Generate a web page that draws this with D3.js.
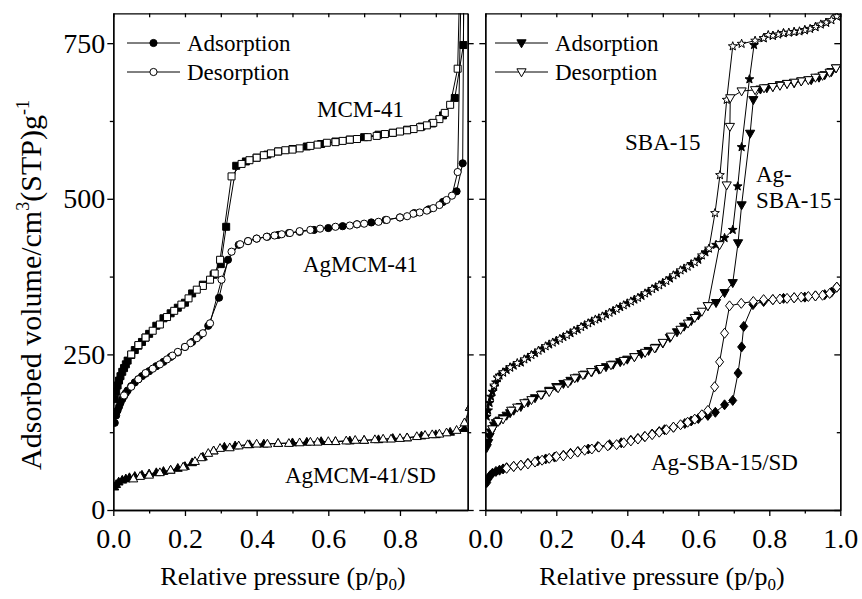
<!DOCTYPE html>
<html>
<head>
<meta charset="utf-8">
<script src="https://cdn.jsdelivr.net/npm/d3@7/dist/d3.min.js"></script>
<style>
	body { margin: 0; background: #fff; }
</style>
</head>
<body>
<svg id="graphic" width="862" height="599"></svg>
<script>
// ---- data: [relative pressure, adsorbed volume] ----

// left panel
const mcm41Ads = [[0.004,178],[0.008,190],[0.012,200],[0.016,208],[0.02,215],[0.025,222],[0.03,228],[0.035,234],[0.04,240],[0.05,249],[0.06,257],[0.07,264],[0.08,270],[0.09,277],[0.10,283],[0.12,296],[0.14,308],[0.16,316],[0.18,325],[0.20,333],[0.22,348],[0.25,362],[0.28,378],[0.30,395],[0.315,455],[0.343,553],[0.37,560],[0.40,566],[0.43,571],[0.46,576],[0.50,580],[0.54,584],[0.58,588],[0.62,592],[0.66,595],[0.70,599],[0.74,603],[0.78,606],[0.82,611],[0.86,616],[0.89,621],[0.92,634],[0.953,662],[0.977,747],[0.982,1200]];
const mcm41Des = [[0.982,1200],[0.961,709],[0.94,651],[0.925,638],[0.91,628],[0.893,622],[0.875,618],[0.856,615],[0.838,612],[0.82,610],[0.80,608],[0.78,606],[0.758,604],[0.735,601],[0.71,599],[0.68,596],[0.66,595],[0.64,593],[0.62,591],[0.596,590],[0.57,587],[0.55,585],[0.52,581],[0.50,579],[0.48,578],[0.46,576],[0.44,573],[0.42,570],[0.40,566],[0.38,562],[0.358,556],[0.33,536],[0.298,402],[0.283,380],[0.27,370],[0.25,360],[0.233,354],[0.21,340],[0.19,330],[0.17,320],[0.15,310],[0.13,298],[0.11,288],[0.09,277],[0.07,265],[0.05,250]];

const agMcm41Ads = [[0.004,140],[0.008,152],[0.012,160],[0.016,166],[0.02,172],[0.025,178],[0.03,183],[0.035,188],[0.04,192],[0.05,199],[0.06,205],[0.07,210],[0.08,215],[0.09,219],[0.10,223],[0.12,231],[0.14,238],[0.16,246],[0.18,253],[0.20,262],[0.22,270],[0.24,280],[0.265,296],[0.295,341],[0.32,402],[0.35,426],[0.376,432],[0.40,436],[0.43,439],[0.46,442],[0.49,445],[0.52,447],[0.56,450],[0.60,453],[0.64,456],[0.68,459],[0.72,462],[0.76,466],[0.80,470],[0.84,477],[0.88,483],[0.92,495],[0.958,512],[0.975,557],[0.982,1200]];
const agMcm41Des = [[0.982,1200],[0.961,543],[0.945,505],[0.93,498],[0.91,490],[0.893,485],[0.875,481],[0.855,478],[0.837,476],[0.82,472],[0.80,470],[0.763,466],[0.74,463],[0.70,460],[0.68,459],[0.66,457],[0.62,455],[0.577,452],[0.55,450],[0.52,448],[0.493,445],[0.47,443],[0.45,441],[0.428,439],[0.40,436],[0.376,432],[0.354,427],[0.33,415],[0.302,370],[0.27,300],[0.25,284],[0.233,276],[0.215,268],[0.20,262],[0.18,254],[0.165,248],[0.15,242],[0.13,234],[0.11,227],[0.09,220],[0.07,210],[0.05,198],[0.03,184]];

const agMcm41SdAds = [[0.003,37],[0.008,41],[0.015,45],[0.025,48],[0.035,50],[0.045,52],[0.06,54],[0.08,56],[0.10,58],[0.12,60],[0.14,62],[0.16,64],[0.18,67],[0.20,70],[0.22,76],[0.25,85],[0.28,95],[0.31,101],[0.34,103],[0.38,105],[0.42,106],[0.46,107],[0.50,108],[0.54,109],[0.58,110],[0.62,110],[0.66,111],[0.70,112],[0.74,113],[0.78,115],[0.82,116],[0.86,119],[0.90,121],[0.94,125],[0.98,131],[0.995,165]];
const agMcm41SdDes = [[0.995,165],[0.98,140],[0.958,128],[0.93,124],[0.91,122],[0.89,121],[0.87,120],[0.847,118],[0.82,116],[0.80,115],[0.775,114],[0.753,114],[0.73,113],[0.70,112],[0.675,112],[0.65,111],[0.62,110],[0.60,110],[0.57,109],[0.55,109],[0.52,108],[0.49,107],[0.46,107],[0.43,106],[0.40,106],[0.375,105],[0.35,103],[0.325,100],[0.298,99],[0.28,95],[0.265,91],[0.245,84],[0.228,78],[0.195,69],[0.16,64],[0.13,60],[0.10,56],[0.075,54],[0.056,50]];

// right panel
const sba15Ads = [[0.004,150],[0.008,160],[0.012,172],[0.016,182],[0.02,190],[0.025,198],[0.03,205],[0.035,212],[0.04,216],[0.05,221],[0.06,225],[0.07,229],[0.08,232],[0.10,237],[0.12,245],[0.14,252],[0.16,259],[0.18,266],[0.20,272],[0.22,278],[0.24,284],[0.26,290],[0.28,297],[0.30,303],[0.32,308],[0.34,314],[0.36,320],[0.38,326],[0.40,332],[0.42,338],[0.44,344],[0.46,351],[0.48,358],[0.50,365],[0.52,372],[0.54,380],[0.56,388],[0.58,395],[0.60,402],[0.62,414],[0.65,426],[0.674,437],[0.697,450],[0.711,520],[0.722,583],[0.744,692],[0.757,747],[0.784,758],[0.81,762],[0.84,766],[0.87,768],[0.90,771],[0.93,776],[0.96,783],[0.99,793]];
const sba15Des = [[0.99,793],[0.975,787],[0.96,783],[0.945,780],[0.93,776],[0.915,773],[0.90,771],[0.885,769],[0.87,768],[0.855,767],[0.84,766],[0.825,764],[0.81,762],[0.797,763],[0.784,758],[0.76,754],[0.722,749],[0.697,745],[0.68,659],[0.661,538],[0.647,477],[0.63,420],[0.61,409],[0.59,398],[0.57,391],[0.55,385],[0.53,377],[0.51,368],[0.49,361],[0.47,355],[0.45,348],[0.43,341],[0.41,335],[0.39,329],[0.37,323],[0.35,317],[0.33,311],[0.31,306],[0.29,300],[0.27,294],[0.25,288],[0.23,281],[0.21,275],[0.19,269],[0.17,263],[0.15,256],[0.13,249],[0.11,242],[0.09,236],[0.07,229],[0.05,221],[0.035,213],[0.025,200]];

const agSba15Ads = [[0.004,100],[0.008,108],[0.012,118],[0.016,125],[0.02,130],[0.025,136],[0.03,140],[0.04,144],[0.05,148],[0.06,152],[0.07,156],[0.08,160],[0.10,166],[0.12,173],[0.14,180],[0.16,186],[0.18,192],[0.20,198],[0.22,203],[0.24,208],[0.26,213],[0.28,218],[0.30,222],[0.32,226],[0.34,230],[0.36,234],[0.38,238],[0.40,242],[0.42,246],[0.44,251],[0.46,256],[0.48,261],[0.50,268],[0.52,277],[0.54,286],[0.56,295],[0.58,304],[0.60,313],[0.627,328],[0.65,333],[0.674,349],[0.697,365],[0.712,429],[0.722,490],[0.746,605],[0.755,659],[0.775,676],[0.793,678],[0.81,680],[0.83,683],[0.85,685],[0.87,686],[0.89,689],[0.918,691],[0.94,695],[0.956,699],[0.975,704],[0.988,710]];
const agSba15Des = [[0.988,710],[0.97,703],[0.95,698],[0.93,695],[0.91,691],[0.89,689],[0.87,687],[0.85,685],[0.83,682],[0.81,680],[0.785,678],[0.76,675],[0.722,673],[0.69,662],[0.689,616],[0.68,522],[0.66,426],[0.627,328],[0.61,319],[0.59,309],[0.571,300],[0.55,290],[0.523,279],[0.50,269],[0.477,260],[0.45,253],[0.42,246],[0.39,240],[0.354,233],[0.325,227],[0.298,222],[0.275,217],[0.252,212],[0.233,204],[0.205,196],[0.18,190],[0.157,185],[0.13,177],[0.11,172],[0.09,165],[0.073,160],[0.05,146],[0.036,142],[0.02,130]];

const agSba15SdAds = [[0.004,44],[0.008,50],[0.013,55],[0.02,59],[0.03,62],[0.04,64],[0.05,66],[0.06,68],[0.08,70],[0.10,72],[0.12,75],[0.148,79],[0.17,82],[0.195,85],[0.22,88],[0.24,91],[0.261,94],[0.29,98],[0.317,102],[0.35,105],[0.383,108],[0.41,112],[0.43,115],[0.449,118],[0.47,122],[0.49,126],[0.505,129],[0.53,133],[0.562,139],[0.58,143],[0.60,147],[0.627,152],[0.648,157],[0.674,169],[0.697,176],[0.712,220],[0.722,262],[0.728,295],[0.754,330],[0.784,335],[0.81,338],[0.84,340],[0.87,341],[0.90,342],[0.93,344],[0.956,346],[0.975,350],[0.99,358]];
const agSba15SdDes = [[0.99,358],[0.97,348],[0.95,345],[0.93,344],[0.91,343],[0.89,342],[0.87,341],[0.85,340],[0.83,339],[0.81,338],[0.784,338],[0.755,335],[0.721,332],[0.688,328],[0.674,284],[0.66,238],[0.646,198],[0.627,160],[0.61,153],[0.59,146],[0.57,141],[0.55,137],[0.53,133],[0.51,129],[0.49,125],[0.47,121],[0.45,118],[0.43,114],[0.41,111],[0.39,108],[0.37,105],[0.345,103],[0.32,101],[0.30,98],[0.28,96],[0.26,93],[0.24,90],[0.22,87],[0.20,86],[0.18,83],[0.16,80],[0.14,77],[0.12,74],[0.10,72],[0.08,70],[0.06,67]];

// ticks and labels
const xMajorTicks = [0, 0.2, 0.4, 0.6, 0.8, 1.0];
const xMinorTicks = [0.1, 0.3, 0.5, 0.7, 0.9];
const yMajorTicks = [0, 250, 500, 750];
const yMinorTicks = [125, 375, 625];
const legendLabels = ['Adsorption', 'Desorption'];
const leftSampleLabels = ['MCM-41', 'AgMCM-41', 'AgMCM-41/SD'];
const rightSampleLabels = ['SBA-15', 'Ag-', 'SBA-15', 'Ag-SBA-15/SD'];

// ---- layout ----
const FONT = '"Liberation Serif", "Times New Roman", serif';
const svg = d3.select('#graphic').style('font-family', FONT);
const y = d3.scaleLinear().domain([0, 798]).range([510, 13.3]);
const xLeft = d3.scaleLinear().domain([0, 0.989]).range([113.3, 467.7]);
const xRight = d3.scaleLinear().domain([0, 1]).range([485.3, 840.3]);

// marker shapes drawn as small paths centred on 0,0
const shapes = {
	square: 'M-3.5,-3.5H3.5V3.5H-3.5Z',
	circle: 'M3.6,0A3.6,3.6 0 1 1 -3.6,0A3.6,3.6 0 1 1 3.6,0Z',
	triUp: 'M0,-4.8L4.4,3L-4.4,3Z',
	triDown: 'M0,4.8L4.6,-3.2L-4.6,-3.2Z',
	diamond: 'M0,-5L4,0L0,5L-4,0Z',
	star: (function () {
		let p = [];
		for (let i = 0; i < 10; i++) {
			let r = i % 2 ? 1.9 : 4.6;
			let a = -Math.PI / 2 + i * Math.PI / 5;
			p.push((r * Math.cos(a)).toFixed(2) + ',' + (r * Math.sin(a)).toFixed(2));
		}
		return 'M' + p.join('L') + 'Z';
	})()
};

function addText(parent, size) {
	return parent.append('text').style('font-family', FONT).attr('font-size', size).attr('fill', '#000');
}

function drawAxes(x, showXLabels, showYLabels, rightTicksIn) {
	const g = svg.append('g');
	const xMax = x.domain()[1];
	const maj = xMajorTicks.filter((d) => d <= xMax + 1e-6);
	const min = xMinorTicks.filter((d) => d <= xMax + 1e-6);
	const top = y.range()[1], bottom = y.range()[0];
	const styleAxis = (sel) => {
		sel.attr('font-family', null);
		sel.selectAll('path.domain').attr('stroke', '#000').attr('stroke-width', 1.3);
		sel.selectAll('line').attr('stroke', '#000').attr('stroke-width', 1.3);
		sel.selectAll('text').style('font-family', FONT).attr('font-size', 28).attr('fill', '#000');
	};

	// bottom
	g.append('g').attr('transform', `translate(0,${bottom})`)
		.call(d3.axisBottom(x).tickValues(maj).tickSize(6).tickSizeOuter(0).tickPadding(12)
			.tickFormat(showXLabels ? d3.format('.1f') : ''))
		.call(styleAxis);
	g.append('g').attr('transform', `translate(0,${bottom})`)
		.call(d3.axisBottom(x).tickValues(min).tickSize(3.5).tickSizeOuter(0).tickFormat(''))
		.call(styleAxis);
	// top (ticks inward)
	g.append('g').attr('transform', `translate(0,${top})`)
		.call(d3.axisTop(x).tickValues(maj.concat(min)).tickSize(-4).tickSizeOuter(0).tickFormat(''))
		.call(styleAxis);
	// left (ticks outward)
	g.append('g').attr('transform', `translate(${x.range()[0]},0)`)
		.call(d3.axisLeft(y).tickValues(yMajorTicks).tickSize(6).tickSizeOuter(0).tickPadding(2)
			.tickFormat(showYLabels ? d3.format('d') : ''))
		.call(styleAxis);
	g.append('g').attr('transform', `translate(${x.range()[0]},0)`)
		.call(d3.axisLeft(y).tickValues(yMinorTicks).tickSize(3.5).tickSizeOuter(0).tickFormat(''))
		.call(styleAxis);
	// right
	const s = rightTicksIn ? -1 : 1;
	g.append('g').attr('transform', `translate(${x.range()[1]},0)`)
		.call(d3.axisRight(y).tickValues(yMajorTicks).tickSize(6 * s).tickSizeOuter(0).tickFormat(''))
		.call(styleAxis);
	g.append('g').attr('transform', `translate(${x.range()[1]},0)`)
		.call(d3.axisRight(y).tickValues(yMinorTicks).tickSize(3.5 * s).tickSizeOuter(0).tickFormat(''))
		.call(styleAxis);
}

function drawSeries(x, clipId, data, shape) {
	const line = d3.line().x((d) => x(d[0])).y((d) => y(d[1]));
	const g = svg.append('g').attr('clip-path', `url(#${clipId})`);
	[data.ads, data.des].forEach((pts) => {
		g.append('path').datum(pts).attr('d', line)
			.attr('fill', 'none').attr('stroke', '#000').attr('stroke-width', 1);
	});
	[[data.ads, '#000'], [data.des, '#fff']].forEach(([pts, fill]) => {
		g.selectAll(null).data(pts.filter((d) => d[1] < 800)).enter().append('path')
			.attr('d', shapes[shape])
			.attr('transform', (d) => `translate(${x(d[0])},${y(d[1])})`)
			.attr('fill', fill).attr('stroke', '#000').attr('stroke-width', 1);
	});
}

function addClip(id, x) {
	svg.append('clipPath').attr('id', id).append('rect')
		.attr('x', x.range()[0]).attr('y', y.range()[1])
		.attr('width', x.range()[1] - x.range()[0])
		.attr('height', y.range()[0] - y.range()[1]);
}

function drawLegend(x0, shape) {
	legendLabels.forEach((label, i) => {
		const cy = 43 + i * 29;
		svg.append('line').attr('x1', x0).attr('x2', x0 + 53).attr('y1', cy).attr('y2', cy)
			.attr('stroke', '#000').attr('stroke-width', 1);
		svg.append('path').attr('d', shapes[shape])
			.attr('transform', `translate(${x0 + 26.5},${cy})`)
			.attr('fill', i === 0 ? '#000' : '#fff').attr('stroke', '#000');
		addText(svg, 23).attr('x', x0 + 60).attr('y', cy + 8).text(label);
	});
}

addClip('clipLeft', xLeft);
addClip('clipRight', xRight);

// left panel curves
drawSeries(xLeft, 'clipLeft', { ads: mcm41Ads, des: mcm41Des }, 'square');
drawSeries(xLeft, 'clipLeft', { ads: agMcm41Ads, des: agMcm41Des }, 'circle');
drawSeries(xLeft, 'clipLeft', { ads: agMcm41SdAds, des: agMcm41SdDes }, 'triUp');

// right panel curves
drawSeries(xRight, 'clipRight', { ads: sba15Ads, des: sba15Des }, 'star');
drawSeries(xRight, 'clipRight', { ads: agSba15Ads, des: agSba15Des }, 'triDown');
drawSeries(xRight, 'clipRight', { ads: agSba15SdAds, des: agSba15SdDes }, 'diamond');

drawAxes(xLeft, true, true, false);
drawAxes(xRight, true, false, true);

drawLegend(127, 'circle');
drawLegend(495, 'triDown');

// sample labels
const labelPos = [[317, 117], [303, 272], [285, 483]];
leftSampleLabels.forEach((t, i) => {
	addText(svg, 23).attr('x', labelPos[i][0]).attr('y', labelPos[i][1]).text(t);
});
const rLabelPos = [[625, 150], [756, 182], [756, 208], [651, 470]];
rightSampleLabels.forEach((t, i) => {
	addText(svg, 23).attr('x', rLabelPos[i][0]).attr('y', rLabelPos[i][1]).text(t);
});

// axis titles
[283, 662].forEach((cx) => {
	const t = addText(svg, 26).attr('x', cx).attr('y', 585).attr('text-anchor', 'middle');
	t.append('tspan').text('Relative pressure (p/p');
	t.append('tspan').attr('font-size', 17).attr('dy', 5).text('0');
	t.append('tspan').attr('dy', -5).text(')');
});

const yt = addText(svg, 30).attr('transform', 'translate(41,285) rotate(-90)')
	.attr('text-anchor', 'middle');
yt.append('tspan').text('Adsorbed volume/cm');
yt.append('tspan').attr('font-size', 18).attr('dy', -12).text('3');
yt.append('tspan').attr('dy', 12).text('(STP)g');
yt.append('tspan').attr('font-size', 18).attr('dy', -12).text('-1');
</script>
</body>
</html>
